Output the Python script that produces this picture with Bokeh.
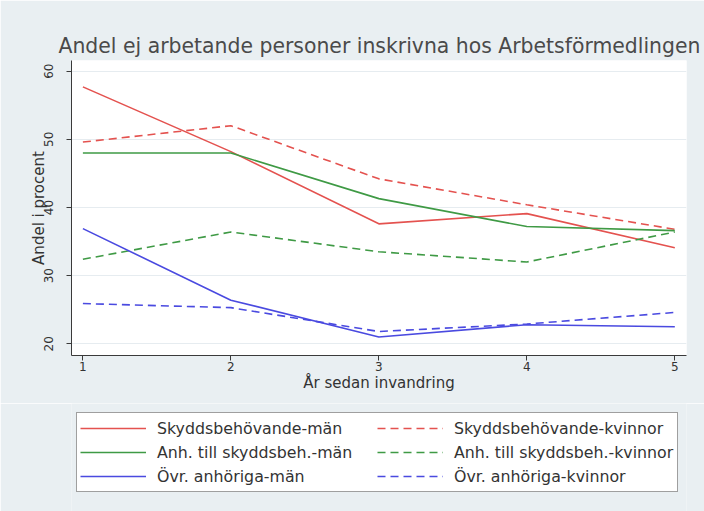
from bokeh.plotting import figure
from bokeh.layouts import column
from bokeh.models import Range1d, Legend, LegendItem, FixedTicker
from bokeh.embed import file_html
from bokeh.resources import INLINE

# ---- data ----
years = [1, 2, 3, 4, 5]
skydd_man = [57.7, 48.2, 37.6, 39.1, 34.1]
skydd_kv = [49.6, 52.0, 44.2, 40.4, 36.8]
anh_man = [48.0, 48.0, 41.3, 37.2, 36.6]
anh_kv = [32.4, 36.4, 33.5, 32.0, 36.4]
ovr_man = [36.9, 26.4, 21.0, 22.8, 22.5]
ovr_kv = [25.9, 25.3, 21.8, 22.9, 24.6]

x_ticks = [1, 2, 3, 4, 5]
y_ticks = [20, 30, 40, 50, 60]

labels = ["Skyddsbehövande-män", "Skyddsbehövande-kvinnor",
          "Anh. till skyddsbeh.-män", "Anh. till skyddsbeh.-kvinnor",
          "Övr. anhöriga-män", "Övr. anhöriga-kvinnor"]

title_text = "Andel ej arbetande personer inskrivna hos Arbetsförmedlingen"
x_title = "År sedan invandring"
y_title = "Andel i procent"

FONT = "DejaVu Sans"
BG = "#e9eff2"
RED = "#e4524f"
GREEN = "#3f9a45"
BLUE = "#4a4ae0"
DASH = "8 5"
LW = 1.6

series = [(skydd_man, RED, "solid"), (skydd_kv, RED, DASH),
          (anh_man, GREEN, "solid"), (anh_kv, GREEN, DASH),
          (ovr_man, BLUE, "solid"), (ovr_kv, BLUE, DASH)]

# ---------------- main chart ----------------
p = figure(width=704, height=403, output_backend="svg", toolbar_location=None,
           x_range=Range1d(0.923, 5.079), y_range=Range1d(18.28, 61.57),
           min_border_left=71, min_border_right=18, min_border_top=60,
           min_border_bottom=48)

p.background_fill_color = "white"
p.border_fill_color = BG
p.outline_line_color = None

p.title.text = title_text
p.title.text_font = FONT
p.title.text_font_size = "20.4px"
p.title.text_font_style = "normal"
p.title.text_color = "#4a4a4a"
p.title.align = "left"
p.title.offset = -13
p.title.standoff = 6

for ax in (p.xaxis[0], p.yaxis[0]):
    ax.axis_line_color = "#3a3a3a"
    ax.axis_line_width = 1
    ax.major_tick_line_color = "#3a3a3a"
    ax.major_tick_out = 5
    ax.major_tick_in = 0
    ax.minor_tick_line_color = None
    ax.major_label_text_font = FONT
    ax.major_label_text_font_size = "12px"
    ax.major_label_text_color = "#333333"
    ax.axis_label_text_font = FONT
    ax.axis_label_text_font_size = "15px"
    ax.axis_label_text_font_style = "normal"
    ax.axis_label_text_color = "#333333"

p.xaxis.ticker = FixedTicker(ticks=x_ticks)
p.yaxis.ticker = FixedTicker(ticks=y_ticks)
p.xaxis.axis_label = x_title
p.yaxis.axis_label = y_title
p.xaxis.major_label_standoff = 1
p.xaxis.axis_label_standoff = 0
p.yaxis.major_label_orientation = "vertical"
p.yaxis.major_label_standoff = 13
p.yaxis.axis_label_standoff = -6

p.xgrid.grid_line_color = None
p.ygrid.grid_line_color = "#e6ecf0"
p.ygrid.grid_line_width = 1

for vals, col, dsh in series:
    p.line(years, vals, line_color=col, line_width=LW, line_dash=dsh)

# ---------------- legend strip ----------------
p2 = figure(width=704, height=108, output_backend="svg", toolbar_location=None,
            x_axis_type=None, y_axis_type=None,
            x_range=Range1d(0, 1), y_range=Range1d(0, 1),
            min_border_left=0, min_border_right=0, min_border_top=0,
            min_border_bottom=0)
p2.background_fill_color = BG
p2.background_fill_alpha = 1
p2.border_fill_color = BG
p2.border_fill_alpha = 1
p2.outline_line_color = None
p2.xgrid.grid_line_color = None
p2.ygrid.grid_line_color = None

nan = float("nan")
items = []
for lab, (vals, col, dsh) in zip(labels, series):
    r = p2.line([nan], [nan], line_color=col, line_width=LW, line_dash=dsh)
    items.append(LegendItem(label=lab, renderers=[r]))

legend = Legend(items=items, location=(5, 19), ncols=2, orientation="horizontal",
                margin=0, padding=3, spacing=0,
                glyph_width=66, glyph_height=20, label_standoff=11,
                label_width=220, label_height=24,
                label_text_font=FONT, label_text_font_size="15.8px",
                label_text_color="#333333",
                border_line_color="#404040", border_line_width=1,
                background_fill_color="white", background_fill_alpha=1)
p2.add_layout(legend, "center")

layout = column(p, p2, spacing=0)

open("out.html", "w").write(file_html(layout, INLINE))
